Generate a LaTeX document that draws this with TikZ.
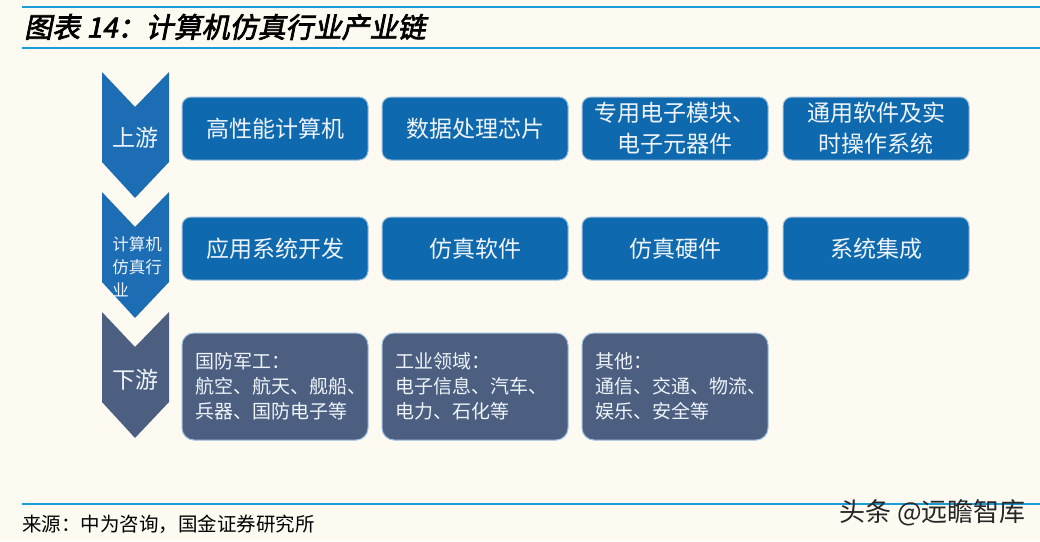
\documentclass[tikz,border=0pt]{standalone}
\usepackage{fontspec}
\newfontfamily\cjk{Noto Sans CJK SC}
\newfontfamily\cjktitle[FakeSlant=0.2,FakeBold=2.5]{Noto Sans CJK SC}
\definecolor{paper}{HTML}{FDFAF1}
\definecolor{rule}{HTML}{1B9BD7}
\definecolor{upblue}{HTML}{1C6DB3}
\definecolor{boxblue}{HTML}{0F69AE}
\definecolor{slate}{HTML}{4C5F81}
\definecolor{edge}{HTML}{9DBEDD}
\definecolor{pale}{HTML}{EEF4FA}
\begin{document}
\begin{tikzpicture}[x=1pt,y=-1pt,
    topbox/.style={draw=edge,line width=1pt,fill=boxblue,rounded corners=9pt,
      minimum width=186pt,minimum height=63pt,text=pale,align=center,
      font=\cjk\fontsize{23}{31}\selectfont},
    lowbox/.style={draw=edge,line width=1pt,fill=slate,rounded corners=12pt,
      minimum width=186pt,minimum height=107pt},
    lowtxt/.style={text=pale,align=left,anchor=west,inner sep=0pt,
      font=\cjk\fontsize{19}{25}\selectfont},
    chevtxt/.style={text=pale,align=left}]
  \fill[paper] (0,0) rectangle (1040,541);
  \useasboundingbox (0,0) rectangle (1040,541);
  % header
  \draw[rule,line width=2pt] (22,7) -- (1040,7);
  \draw[rule,line width=2pt] (22,48) -- (1040,48);
  \node[anchor=west,inner sep=0pt,font=\cjktitle\fontsize{28}{28}\selectfont] (title)
    at (24,27) {图表 14：计算机仿真行业产业链};
  % chevrons
  \fill[upblue] (102,72) -- (135,107) -- (169,72) -- (169,162) -- (135,198) -- (102,162) -- cycle;
  \fill[upblue] (102,192) -- (135,227) -- (169,192) -- (169,282) -- (135,318) -- (102,282) -- cycle;
  \fill[slate] (102,312) -- (135,347) -- (169,312) -- (169,402) -- (135,438) -- (102,402) -- cycle;
  \node[chevtxt,font=\cjk\fontsize{23}{23}\selectfont] (up) at (135,138) {上游};
  \node[chevtxt,font=\cjk\fontsize{16.5}{23}\selectfont] (mid) at (137,267) {计算机\\仿真行\\业};
  \node[chevtxt,font=\cjk\fontsize{23}{23}\selectfont] (down) at (135,380) {下游};
  % upstream
  \node[topbox] (u1) at (275,128.5) {高性能计算机};
  \node[topbox] (u2) at (475,128.5) {数据处理芯片};
  \node[topbox] (u3) at (675,128.5) {专用电子模块、\\电子元器件};
  \node[topbox] (u4) at (876,128.5) {通用软件及实\\时操作系统};
  % industry
  \node[topbox] (m1) at (275,248.5) {应用系统开发};
  \node[topbox] (m2) at (475,248.5) {仿真软件};
  \node[topbox] (m3) at (675,248.5) {仿真硬件};
  \node[topbox] (m4) at (876,248.5) {系统集成};
  % downstream
  \node[lowbox] (d1) at (275,386.5) {};
  \node[lowbox] (d2) at (475,386.5) {};
  \node[lowbox] (d3) at (675,386.5) {};
  \node[lowtxt] (d1t) at ([xshift=14pt]d1.west) {国防军工：\\航空、航天、舰船、\\兵器、国防电子等};
  \node[lowtxt] (d2t) at ([xshift=14pt]d2.west) {工业领域：\\电子信息、汽车、\\电力、石化等};
  \node[lowtxt] (d3t) at ([xshift=14pt]d3.west) {其他：\\通信、交通、物流、\\娱乐、安全等};
  % footer
  \draw[rule,line width=2pt] (22,504) -- (1040,504);
  \node[anchor=west,inner sep=0pt,font=\cjk\fontsize{19.5}{19.5}\selectfont] (src)
    at (22,524) {来源：中为咨询，国金证券研究所};
  \node[anchor=east,inner sep=0pt,text=black!85,font=\cjk\fontsize{26}{26}\selectfont] (mark)
    at (1026,513) {头条 @远瞻智库};
\end{tikzpicture}
\end{document}
